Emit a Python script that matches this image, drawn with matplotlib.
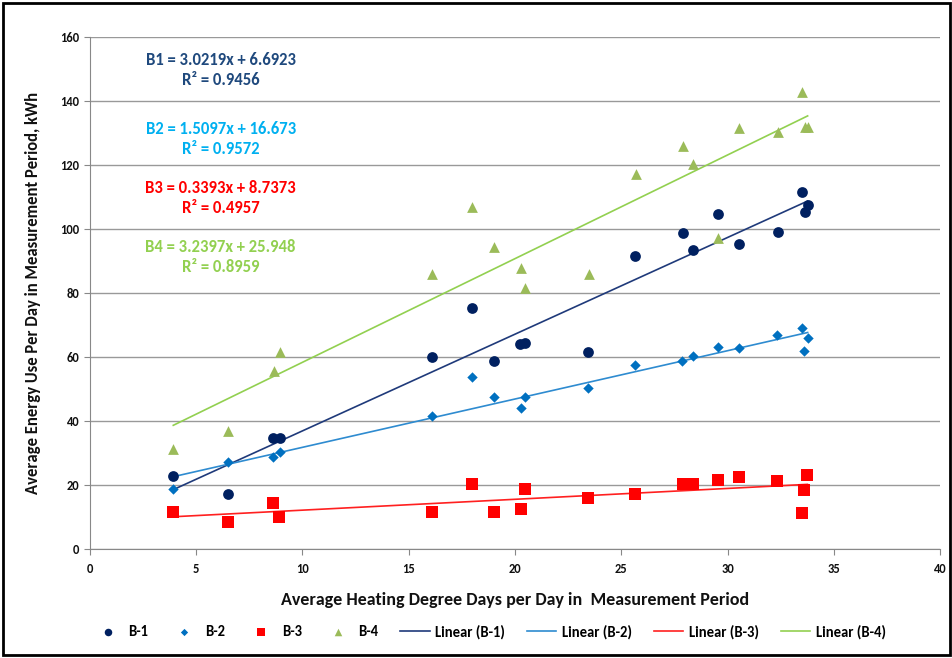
import matplotlib
matplotlib.use("Agg")
import matplotlib.pyplot as plt
from matplotlib import font_manager
from matplotlib.patches import Rectangle
import numpy as np

names = {f.name for f in font_manager.fontManager.ttflist}
fam = [n for n in ["Carlito", "Liberation Sans Narrow", "Open Sans"] if n in names] + ["DejaVu Sans"]
plt.rcParams['font.family'] = fam

# ---- data ----
b1_x = [3.92, 6.51, 8.63, 8.94, 16.08, 18.0, 19.03, 20.24, 20.47, 23.45, 25.65, 27.92, 28.39, 29.54, 30.56, 32.36, 33.49, 33.77, 33.65]
b1_y = [22.9, 17.2, 34.6, 34.6, 60.1, 75.3, 58.75, 64.0, 64.5, 61.7, 91.7, 98.9, 93.4, 104.7, 95.3, 99.1, 111.7, 107.5, 105.2]

b2_x = [3.92, 6.51, 8.63, 8.94, 16.08, 18.0, 19.03, 20.27, 20.45, 23.45, 25.66, 27.87, 28.36, 29.54, 30.54, 32.34, 33.49, 33.77, 33.62]
b2_y = [18.75, 27.3, 28.8, 30.2, 41.7, 53.6, 47.4, 44.2, 47.4, 50.4, 57.5, 58.9, 60.3, 63.2, 62.7, 67.0, 69.1, 66.0, 62.0]

b3_x = [3.92, 6.51, 8.63, 8.9, 16.08, 18.0, 19.03, 20.27, 20.45, 23.45, 25.66, 27.92, 28.39, 29.54, 30.54, 32.34, 33.76, 33.61, 33.49]
b3_y = [11.5, 8.5, 14.5, 10.1, 11.5, 20.2, 11.5, 12.5, 18.75, 15.8, 17.3, 20.2, 20.2, 21.6, 22.6, 21.25, 23.0, 18.4, 11.35]

b4_x = [3.92, 6.51, 8.66, 8.94, 16.09, 18.0, 19.03, 20.27, 20.45, 23.47, 25.69, 27.92, 28.39, 29.54, 30.56, 32.36, 33.49, 33.65, 33.77]
b4_y = [31.25, 37.0, 55.7, 61.5, 85.8, 106.8, 94.5, 87.7, 81.7, 85.8, 117.2, 125.9, 120.2, 97.1, 131.5, 130.2, 142.7, 131.8, 131.8]

names_s = ["B-1", "B-2", "B-3", "B-4"]
slopes = [3.0219, 1.5097, 0.3393, 3.2397]
intercepts = [6.6923, 16.673, 8.7373, 25.948]
r2 = [0.9456, 0.9572, 0.4957, 0.8959]
eq_labels = ["B1", "B2", "B3", "B4"]

x_ticks = [0, 5, 10, 15, 20, 25, 30, 35, 40]
y_ticks = [0, 20, 40, 60, 80, 100, 120, 140, 160]

marker_colors = ["#002060", "#0070C0", "#FF0000", "#9BBB59"]
markers = ["o", "D", "s", "^"]
msizes = [60, 28, 70, 60]
line_colors = ["#1F3A7A", "#2E8BD0", "#FF2020", "#92D050"]
text_colors = ["#1F497D", "#00B0F0", "#FF0000", "#92D050"]

xs = [b1_x, b2_x, b3_x, b4_x]
ys = [b1_y, b2_y, b3_y, b4_y]

fig = plt.figure(figsize=(9.53, 6.58), dpi=100)
ax = fig.add_axes([0.0944, 0.1657, 0.892, 0.778])

for i in range(4):
    ax.scatter(xs[i], ys[i], marker=markers[i], s=msizes[i], color=marker_colors[i],
               label=names_s[i], zorder=3, linewidths=0)
for i in range(4):
    xx = np.array([min(xs[i]), max(xs[i])])
    ax.plot(xx, slopes[i] * xx + intercepts[i], color=line_colors[i], lw=1.2,
            label=f"Linear ({names_s[i]})", zorder=2)

eq_y = [[152.8, 146.6], [131.3, 125.0], [112.8, 106.6], [94.4, 88.1]]
for i in range(4):
    ax.text(6.15, eq_y[i][0], f"{eq_labels[i]} = {slopes[i]:.4f}x + {intercepts[i]:g}",
            color=text_colors[i], fontsize=12, fontweight="bold", ha="center", va="center")
    ax.text(6.15, eq_y[i][1], f"R² = {r2[i]:.4f}", color=text_colors[i], fontsize=12,
            fontweight="bold", ha="center", va="center")

ax.set_xlim(0, 40)
ax.set_ylim(0, 160)
ax.set_xticks(x_ticks)
ax.set_yticks(y_ticks)
ax.tick_params(axis="both", labelsize=9, colors="#888888", labelcolor="#111111", length=4)
ax.tick_params(axis="x", pad=6)
for lab in ax.get_xticklabels() + ax.get_yticklabels():
    lab.set_fontweight("bold")
ax.yaxis.grid(True, color="#999999", lw=1.0)
ax.set_axisbelow(True)
for s in ["top", "right"]:
    ax.spines[s].set_visible(False)
for s in ["left", "bottom"]:
    ax.spines[s].set_color("#888888")

ax.set_xlabel("Average Heating Degree Days per Day in  Measurement Period", fontsize=13,
              fontweight="bold", labelpad=12, color="#111111")
ax.set_ylabel("Average Energy Use Per Day in Measurement Period, kWh", fontsize=12,
              fontweight="bold", labelpad=14, color="#111111")

leg = ax.legend(loc="upper center", bbox_to_anchor=(0.47, -0.122), ncol=8, frameon=False,
                fontsize=10.5, handlelength=2.0, columnspacing=1.5, handletextpad=0.4,
                markerscale=0.7)
for t in leg.get_texts():
    t.set_fontweight("bold")

fig.patches.append(Rectangle((0.003, 0.004), 0.994, 0.992, transform=fig.transFigure,
                             fill=False, edgecolor="black", lw=2))

fig.savefig("out.png", dpi=100)
